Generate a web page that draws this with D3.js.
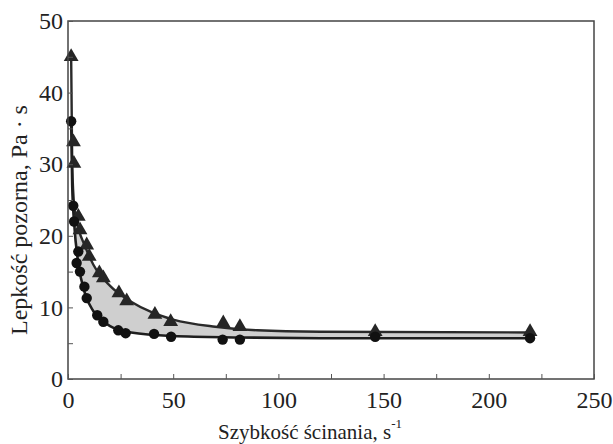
<!DOCTYPE html>
<html><head><meta charset="utf-8">
<script src="https://cdn.jsdelivr.net/npm/d3@7"></script>
<style>body{margin:0;background:#fff}svg{display:block}</style>
</head><body>
<svg id="c" width="613" height="444"></svg>
<script>
// Triangles (upper series): shear rate, apparent viscosity
const triX = [1.5, 2.6, 2.8, 4.9, 5.7, 8.9, 10.1, 14.9, 16.8, 24.2, 27.9, 41.3, 48.8, 73.8, 81.7, 146, 219.6];
const triY = [45, 33.1, 30.1, 22.7, 20.8, 18.7, 17.1, 14.8, 14.1, 12.0, 10.9, 9.0, 8.0, 7.8, 7.3, 6.6, 6.6];
// Circles (lower series)
const cirX = [1.5, 2.5, 2.9, 4.1, 4.9, 5.7, 7.8, 8.9, 13.9, 16.8, 23.9, 27.4, 40.9, 49.0, 73.5, 81.7, 146, 219.6];
const cirY = [36, 24.2, 22.0, 16.2, 17.8, 15.0, 12.9, 11.3, 8.9, 8.0, 6.8, 6.4, 6.3, 5.9, 5.5, 5.5, 5.9, 5.7];
// Curves drawn through each series
const upX = [1.5, 2.0, 3.0, 5.0, 8.0, 12, 20, 30, 40, 50, 70, 90, 120, 219.6];
const upY = [45, 30, 24, 21, 18.6, 16.0, 13.0, 10.8, 9.3, 8.3, 7.3, 6.8, 6.6, 6.5];
const loX = [1.5, 2.0, 3.0, 5.0, 8.0, 12, 16, 20, 30, 50, 80, 120, 219.6];
const loY = [36, 27, 21.5, 16, 12, 9.5, 8.2, 7.4, 6.5, 6.0, 5.8, 5.7, 5.7];
// Axis ticks
const xTicks = [0, 25, 50, 75, 100, 125, 150, 175, 200, 225, 250];
const xLabels = [0, 50, 100, 150, 200, 250];
const yTicks = [0, 5, 10, 15, 20, 25, 30, 35, 40, 45, 50];
const yLabels = [0, 10, 20, 30, 40, 50];

const svg = d3.select("#c");
const x = d3.scaleLinear().domain([0, 250]).range([68, 594]);
const y = d3.scaleLinear().domain([0, 50]).range([379, 21]);
const font = "'Liberation Serif','Times New Roman',serif";

const up = upX.map((v, i) => [v, upY[i]]);
const lo = loX.map((v, i) => [v, loY[i]]);
const line = d3.line().x(d => x(d[0])).y(d => y(d[1])).curve(d3.curveMonotoneX);

// shaded band between curves
const upD = line(up);
const loRevD = line(lo.slice().reverse());
svg.append("path").attr("d", upD + "L" + loRevD.slice(1) + "Z")
  .attr("fill", "#cfcfcf").attr("stroke", "none");

svg.append("path").attr("d", upD).attr("fill", "none").attr("stroke", "#2a2a2a").attr("stroke-width", 2.4);
svg.append("path").attr("d", line(lo)).attr("fill", "none").attr("stroke", "#1e1e1e").attr("stroke-width", 2.6);

// markers
const tri = d3.symbol().type(d3.symbolTriangle).size(95);
svg.append("g").selectAll("path").data(triX.map((v, i) => [v, triY[i]])).join("path")
  .attr("d", tri).attr("transform", d => `translate(${x(d[0])},${y(d[1])})`)
  .attr("fill", "#262626");
svg.append("g").selectAll("circle").data(cirX.map((v, i) => [v, cirY[i]])).join("circle")
  .attr("cx", d => x(d[0])).attr("cy", d => y(d[1])).attr("r", 5.2).attr("fill", "#111");

// frame
svg.append("rect").attr("x", 68).attr("y", 21).attr("width", 594 - 68).attr("height", 379 - 21)
  .attr("fill", "none").attr("stroke", "#444").attr("stroke-width", 1.5);

// axes
const xa = svg.append("g").attr("transform", "translate(0,379)")
  .call(d3.axisBottom(x).tickValues(xTicks).tickSizeInner(-5).tickSizeOuter(0).tickPadding(12)
    .tickFormat(d => xLabels.includes(d) ? d : ""));
xa.select(".domain").remove();
xa.selectAll("line").attr("stroke", "#555");
xa.selectAll("text").attr("font-family", font).attr("font-size", 24).attr("fill", "#222");

const ya = svg.append("g").attr("transform", "translate(68,0)")
  .call(d3.axisLeft(y).tickValues(yTicks).tickSizeInner(-5).tickSizeOuter(0).tickPadding(5)
    .tickFormat(d => yLabels.includes(d) ? d : ""));
ya.select(".domain").remove();
ya.selectAll("line").attr("stroke", "#555");
ya.selectAll("text").attr("font-family", font).attr("font-size", 24).attr("fill", "#222");

// axis titles
const xt = svg.append("text").attr("x", 310).attr("y", 439).attr("text-anchor", "middle")
  .attr("font-family", font).attr("font-size", 21).attr("fill", "#222");
xt.append("tspan").text("Szybkość ścinania, s");
xt.append("tspan").attr("dy", -11).attr("font-size", 13).text("-1");

svg.append("text").attr("transform", "translate(27,220) rotate(-90)").attr("text-anchor", "middle")
  .attr("font-family", font).attr("font-size", 24).attr("fill", "#222")
  .text("Lepkość pozorna, Pa · s");
</script>
</body></html>
